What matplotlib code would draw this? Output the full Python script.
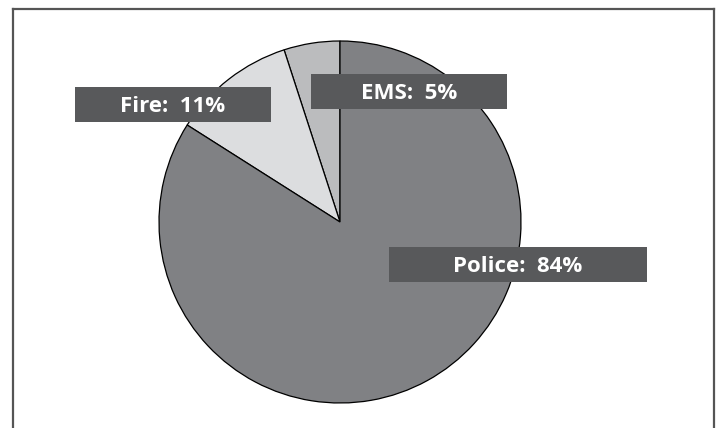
import matplotlib
matplotlib.use("Agg")
import matplotlib.pyplot as plt
from matplotlib.patches import Rectangle
from matplotlib.lines import Line2D

categories = ["EMS", "Fire", "Police"]
values = [5, 11, 84]
colors = ["#bbbcbe", "#dcdddf", "#808184"]

W, H = 721, 428
fig = plt.figure(figsize=(W / 100, H / 100), dpi=100)
fig.patch.set_facecolor("white")

# pie axes: center (340,222) px, radius 181 px
cx, cy, r = 340, 222, 181
ax = fig.add_axes([(cx - r) / W, (H - cy - r) / H, 2 * r / W, 2 * r / H])
ax.pie(values, colors=colors, startangle=90, counterclock=True,
       wedgeprops=dict(edgecolor="black", linewidth=0.9))
ax.set_xlim(-1, 1)
ax.set_ylim(-1, 1)
ax.set_aspect("equal")
ax.axis("off")

# frame (open at bottom)
fc = "#555555"
def px(x, y):
    return x / W, 1 - y / H
for (x0, y0), (x1, y1) in [((13, 9), (13, 440)), ((13, 9), (714, 9)), ((714, 9), (714, 440))]:
    a, b = px(x0, y0)
    c, d = px(x1, y1)
    fig.add_artist(Line2D([a, c], [b, d], color=fc, linewidth=1.6, transform=fig.transFigure))

# label boxes (x0, y0, x1, y1 in px)
boxes = {"Fire": (75, 87, 271, 122), "EMS": (311, 74, 507, 109), "Police": (389, 247, 647, 282)}
for cat, val in zip(categories, values):
    x0, y0, x1, y1 = boxes[cat]
    fig.add_artist(Rectangle((x0 / W, 1 - y1 / H), (x1 - x0) / W, (y1 - y0) / H,
                             transform=fig.transFigure, facecolor="#58595b", edgecolor="none"))
    fig.text((x0 + x1) / 2 / W, 1 - (y0 + y1) / 2 / H + 0.002, f"{cat}:  {val}%",
             ha="center", va="center_baseline", color="white", fontsize=16,
             fontweight="bold", family="Open Sans")

fig.savefig("out.png", dpi=100)
